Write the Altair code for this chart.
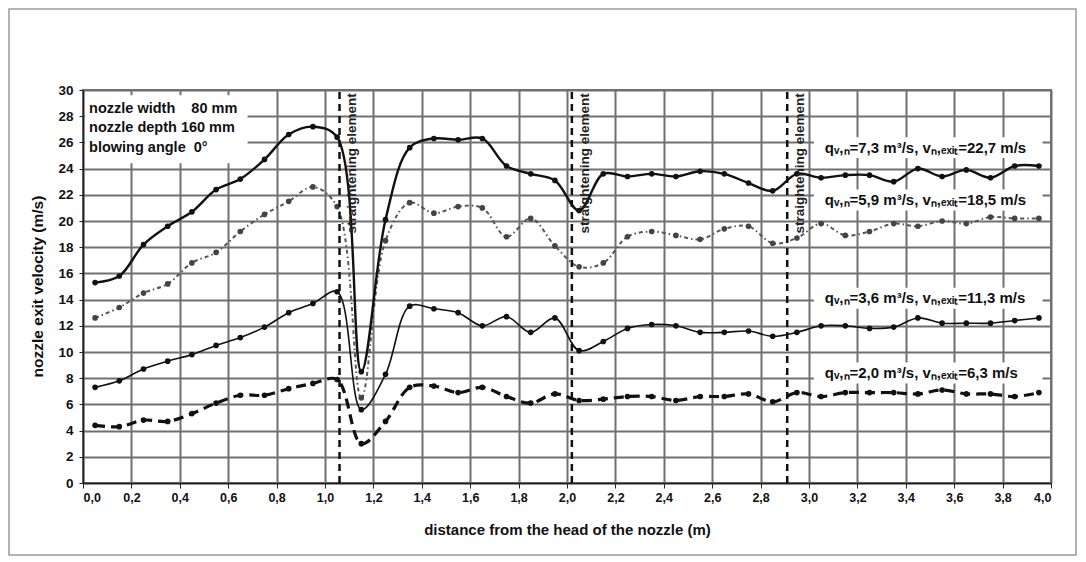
import altair as alt
import pandas as pd

# ---------------- data ----------------
distance = [0.05, 0.15, 0.25, 0.35, 0.45, 0.55, 0.65, 0.75, 0.85, 0.95,
            1.05, 1.15, 1.25, 1.35, 1.45, 1.55, 1.65, 1.75, 1.85, 1.95,
            2.05, 2.15, 2.25, 2.35, 2.45, 2.55, 2.65, 2.75, 2.85, 2.95,
            3.05, 3.15, 3.25, 3.35, 3.45, 3.55, 3.65, 3.75, 3.85, 3.95]

v_73 = [15.3, 15.8, 18.2, 19.6, 20.7, 22.4, 23.2, 24.7, 26.6, 27.2,
        26.4, 8.5, 20.1, 25.6, 26.3, 26.2, 26.3, 24.2, 23.6, 23.1,
        20.8, 23.6, 23.4, 23.6, 23.4, 23.8, 23.6, 22.9, 22.3, 23.6,
        23.3, 23.5, 23.5, 23.0, 24.0, 23.4, 23.9, 23.3, 24.2, 24.2]

v_59 = [12.6, 13.4, 14.5, 15.2, 16.8, 17.6, 19.2, 20.5, 21.5, 22.6,
        21.1, 6.5, 18.5, 21.4, 20.6, 21.1, 21.0, 18.8, 20.2, 18.1,
        16.5, 16.8, 18.8, 19.2, 18.9, 18.6, 19.4, 19.6, 18.3, 18.7,
        19.8, 18.9, 19.2, 19.8, 19.6, 20.0, 19.8, 20.3, 20.2, 20.2]

v_36 = [7.3, 7.8, 8.7, 9.3, 9.8, 10.5, 11.1, 11.9, 13.0, 13.7,
        14.6, 5.6, 8.3, 13.5, 13.3, 13.0, 12.0, 12.7, 11.5, 12.6,
        10.1, 10.8, 11.8, 12.1, 12.0, 11.5, 11.5, 11.6, 11.2, 11.5,
        12.0, 12.0, 11.8, 11.9, 12.6, 12.2, 12.2, 12.2, 12.4, 12.6]

v_20 = [4.4, 4.3, 4.8, 4.7, 5.3, 6.1, 6.7, 6.7, 7.2, 7.6,
        7.9, 3.0, 4.7, 7.3, 7.4, 6.9, 7.3, 6.6, 6.1, 6.8,
        6.3, 6.4, 6.6, 6.6, 6.3, 6.6, 6.6, 6.8, 6.2, 6.9,
        6.6, 6.9, 6.9, 6.9, 6.8, 7.1, 6.8, 6.8, 6.6, 6.9]

series_labels = [
    "q\u1d65,\u2099=7,3 m\u00b3/s, v\u2099,\u2091\u2093\u1d62\u209c=22,7 m/s",
    "q\u1d65,\u2099=5,9 m\u00b3/s, v\u2099,\u2091\u2093\u1d62\u209c=18,5 m/s",
    "q\u1d65,\u2099=3,6 m\u00b3/s, v\u2099,\u2091\u2093\u1d62\u209c=11,3 m/s",
    "q\u1d65,\u2099=2,0 m\u00b3/s, v\u2099,\u2091\u2093\u1d62\u209c=6,3 m/s",
]
series_label_y = [25.6, 21.6, 14.1, 8.4]

note_lines = ["nozzle width\u00a0\u00a0\u00a0\u00a080 mm",
              "nozzle depth 160 mm",
              "blowing angle\u00a0\u00a00\u00b0"]
note_y = [28.55, 27.1, 25.6]

element_pos = [1.06, 2.02, 2.91]
element_text = "straightening element"

x_ticks = [0.0, 0.2, 0.4, 0.6, 0.8, 1.0, 1.2, 1.4, 1.6, 1.8, 2.0,
           2.2, 2.4, 2.6, 2.8, 3.0, 3.2, 3.4, 3.6, 3.8, 4.0]
y_ticks = [0, 2, 4, 6, 8, 10, 12, 14, 16, 18, 20, 22, 24, 26, 28, 30]

# ---------------- scales & axes ----------------
XS = alt.Scale(domain=[0, 4], nice=False, zero=False)
YS = alt.Scale(domain=[0, 30], nice=False)

XAX = alt.Axis(
    title="distance from the head of the nozzle (m)",
    values=x_ticks, format=".1f",
    labelExpr="replace(datum.label, '.', ',')",
    labelFont="Liberation Sans Narrow, Liberation Sans, sans-serif",
    labelFontSize=12.5, labelFontWeight="bold", labelColor="#111",
    labelPadding=3, tickSize=5, tickColor="#222", domainColor="#222",
    domainWidth=1.5, gridColor="#707070", gridWidth=2,
    titleFont="Liberation Sans", titleFontSize=15, titleFontWeight="bold",
    titleColor="#111", titleX=484, titleY=46, titleBaseline="middle",
    titleAlign="center",
)
YAX = alt.Axis(
    title="nozzle exit velocity (m/s)",
    values=y_ticks, format="d",
    labelFont="Liberation Sans", labelFontSize=13.5, labelFontWeight="bold",
    labelColor="#111", labelPadding=6, tickSize=4, tickColor="#222",
    domainColor="#222", domainWidth=1.5,
    gridColor="#707070", gridWidth=2,
    titleFont="Liberation Sans", titleFontSize=15.5, titleFontWeight="bold",
    titleColor="#111", titleX=-46, titleY=196, titleAngle=270,
    titleBaseline="middle", titleAlign="center",
)

X = alt.X("x:Q", scale=XS, axis=XAX)
Y = alt.Y("v:Q", scale=YS, axis=YAX)

layers = []

# white boxes behind annotations (cover grid lines)
box_df = pd.DataFrame({
    "x": [0.008] + [3.02] * 4,
    "x2": [0.68] + [3.965] * 4,
    "v": [24.4] + [yv - 0.8 for yv in series_label_y],
    "v2": [29.6] + [yv + 0.8 for yv in series_label_y],
})
layers.append(
    alt.Chart(box_df).mark_rect(color="white", opacity=1).encode(
        x=X, x2="x2:Q", y=Y, y2="v2:Q")
)


def series(vals, color, width, dash, pcolor):
    df = pd.DataFrame({"x": distance, "v": vals})
    kw = dict(color=color, strokeWidth=width, interpolate="catmull-rom")
    if dash is not None:
        kw["strokeDash"] = dash
    ln = alt.Chart(df).mark_line(**kw).encode(x=X, y=Y)
    pt = alt.Chart(df).mark_circle(size=32, color=pcolor, opacity=1).encode(x=X, y=Y)
    return [ln, pt]


layers += series(v_20, "#111", 3.2, [10, 6], "#111")
layers += series(v_36, "#111", 1.6, None, "#111")
layers += series(v_59, "#555", 2.0, [4, 3, 1.5, 3], "#444")
layers += series(v_73, "#111", 2.4, None, "#111")

# straightening element rules
el_df = pd.DataFrame({"x": element_pos, "v": [0] * 3, "v2": [30] * 3})
layers.append(
    alt.Chart(el_df).mark_rule(color="#111", strokeWidth=2.5, strokeDash=[7, 5]).encode(
        x=X, y=Y, y2="v2:Q")
)
el_txt = pd.DataFrame({"pos": element_pos, "t": [element_text] * 3, "v": [29.75] * 3})
layers.append(
    alt.Chart(el_txt).transform_calculate(x="datum.pos + 0.053").mark_text(
        angle=270, align="right", baseline="middle", font="Liberation Sans",
        fontSize=13.5, fontWeight="bold", color="#222").encode(
        x=X, y=Y, text="t:N")
)

# series labels
lab_df = pd.DataFrame({"x": [3.065] * 4, "v": series_label_y, "t": series_labels})
layers.append(
    alt.Chart(lab_df).mark_text(
        align="left", baseline="middle", font="Liberation Sans",
        fontSize=15, fontWeight="bold", color="#111").encode(
        x=X, y=Y, text="t:N")
)

# notes box text
note_df = pd.DataFrame({"x": [0.025] * 3, "v": note_y, "t": note_lines})
layers.append(
    alt.Chart(note_df).mark_text(
        align="left", baseline="middle", font="Liberation Sans",
        fontSize=14.5, fontWeight="bold", color="#111").encode(
        x=X, y=Y, text="t:N")
)

# outer chart frame (decoration)
layers.append(
    alt.Chart(alt.Data(values=[{"a": 1}])).mark_rect(
        fill="transparent", stroke="#9a9a9a", strokeWidth=1.5).encode(
        x=alt.value(-74), x2=alt.value(993), y=alt.value(-81), y2=alt.value(465))
)

chart = alt.layer(*layers).properties(
    width=968, height=393,
    padding={"left": 75, "top": 82, "right": 27, "bottom": 73},
    autosize=alt.AutoSizeParams(type="none"),
    background="white",
).configure_view(stroke="#707070", strokeWidth=2)

chart.save("out.html", embed_options={"renderer": "svg", "actions": False})
